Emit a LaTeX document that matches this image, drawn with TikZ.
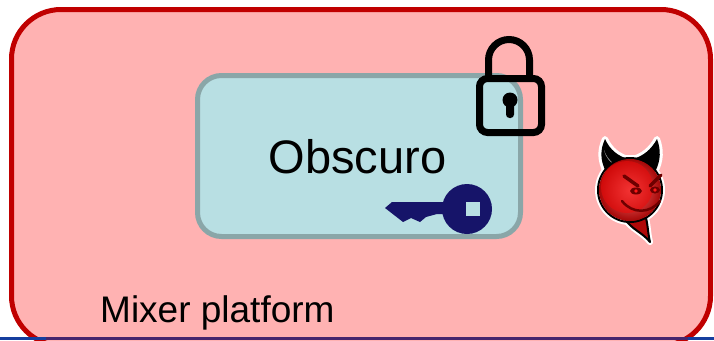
\documentclass[tikz,border=0pt]{standalone}
\usepackage{fontspec}
\setmainfont{Liberation Sans}
\definecolor{platformfill}{RGB}{255,178,178}
\definecolor{platformline}{RGB}{192,0,0}
\definecolor{enclavefill}{RGB}{184,223,227}
\definecolor{enclaveline}{RGB}{138,166,168}
\definecolor{keynavy}{RGB}{22,20,105}
\definecolor{rulerblue}{RGB}{22,62,158}
\definecolor{rulerpurple}{RGB}{70,38,110}
\definecolor{devilred}{RGB}{235,10,10}
\definecolor{devildark}{RGB}{110,0,0}
\begin{document}
\begin{tikzpicture}[x=1pt,y=-1pt,
  platform/.style={draw=platformline, fill=platformfill, line width=5pt,
    rounded corners=49.5pt, minimum width=699pt, minimum height=336pt, inner sep=0pt},
  enclave/.style={draw=enclaveline, fill=enclavefill, line width=5pt,
    rounded corners=24pt, minimum width=323pt, minimum height=161pt, inner sep=0pt},
  label/.style={inner sep=0pt, anchor=base west, text=black},
  lockline/.style={draw=black, line width=7pt},
  halo/.style={draw=white, line width=6pt, line join=round},
  outline/.style={draw=black, line width=2pt, line join=round}]
\useasboundingbox (0,0) rectangle (714,340);

% platform frame, its lower edge running off the page
\begin{scope}
  \clip (0,0) rectangle (714,340);
  \node[platform] (platform) at (361,177.5) {};
\end{scope}

% enclave box
\node[enclave] (enclave) at (359,156) {};
\node[label, font=\fontsize{47}{47}\selectfont] (obscuro) at (268.5,173) {Obscuro};
\node[label, font=\fontsize{37}{37}\selectfont] (mixer) at (100,322) {Mixer platform};

% padlock
\draw[lockline] (488.5,80) -- (488.5,60) arc (180:360:20.5) -- (529.5,80);
\draw[lockline, rounded corners=8pt] (479.5,78.5) rectangle (541.5,132.5);
\fill[black] (510,100) circle (7.5);
\fill[black, rounded corners=3.5pt] (506,100) rectangle (514,118);

% key
\fill[keynavy]
  (392,202) -- (446,202) -- (446,214) -- (437,214) -- (426,217) -- (420,222)
  -- (411,218) -- (403,222) -- (385,208) -- cycle;
\fill[keynavy] (467,209) circle (25);
\fill[enclavefill] (466,202) rectangle (480,216);

% devil
\begin{scope}
  % white halo behind everything
  \path[halo]
    (606,172) .. controls (600,160) and (600,150) .. (605,139)
    .. controls (610,150) and (618,156) .. (628,159) -- cycle;
  \path[halo]
    (655,172) .. controls (661,160) and (661,150) .. (657,139)
    .. controls (651,150) and (643,156) .. (633,159) -- cycle;
  \path[halo] (630,190) circle (32);
  \path[halo] (624,218) .. controls (632,230) and (642,232) .. (650,242)
    .. controls (648,234) and (648,226) .. (646,218) -- cycle;
  % horns
  \fill[black]
    (606,172) .. controls (600,160) and (600,150) .. (605,139)
    .. controls (610,150) and (618,156) .. (628,159) -- cycle;
  \fill[black]
    (655,172) .. controls (661,160) and (661,150) .. (657,139)
    .. controls (651,150) and (643,156) .. (633,159) -- cycle;
  \fill[gray!70] (604,150) .. controls (606,158) and (610,162) .. (614,164)
    .. controls (609,160) and (606,156) .. (604,150) -- cycle;
  % tail
  \filldraw[fill=devilred!75!black, outline]
    (624,218) .. controls (632,230) and (642,232) .. (650,242)
    .. controls (648,234) and (648,226) .. (646,218) -- cycle;
  % head
  \draw[outline] (630,190) circle (32);
  \shade[inner color=red!55!white, outer color=devilred!70!black]
    (630,190) circle (31);
  \fill[devilred, opacity=0.6] (627,187) circle (26);
  % brows, eyes and grin
  \draw[devildark, line width=3.5pt, line cap=round] (624,176) -- (638,186);
  \draw[devildark, line width=3.5pt, line cap=round] (661,175) -- (650,186);
  \fill[devildark] (636,191) ellipse (6 and 3.5);
  \fill[devildark] (655,190) ellipse (5 and 3.5);
  \fill[red!90!white] (636,191) circle (1.8);
  \fill[red!90!white] (655,190) circle (1.8);
  \draw[devildark, line width=2.5pt, line cap=round]
    (622,201) .. controls (632,214) and (650,214) .. (660,201);
\end{scope}

% bottom rule
\fill[rulerblue] (0,337) rectangle (714,340);
\fill[rulerpurple] (46,337) rectangle (688,340);
\end{tikzpicture}
\end{document}
